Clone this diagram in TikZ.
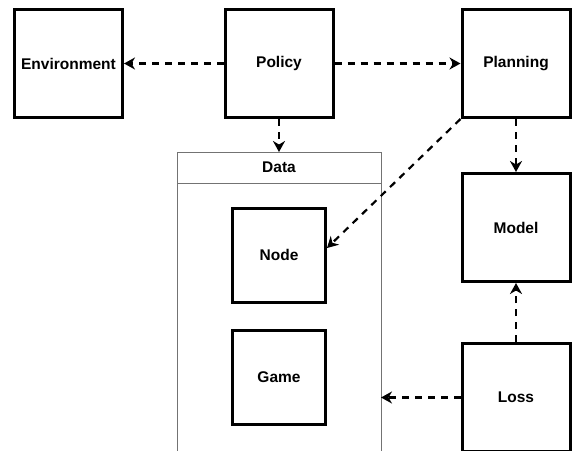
\documentclass[tikz,border=0pt]{standalone}
\usepackage{fontspec}
\setmainfont{Liberation Sans}
\usepackage{tikz}
\usetikzlibrary{arrows.meta}

\tikzset{
 blk/.style={draw,line width=3pt,minimum width=108pt,minimum height=108pt,inner sep=0pt,font=\bfseries\fontsize{15.5}{18}\selectfont},
 inblk/.style={blk,minimum width=93pt,minimum height=94pt},
 link/.style={line width=2.2pt,dash pattern=on 7pt off 6pt,-{Stealth[length=11pt,width=12pt,inset=3.5pt]}}
}

\begin{document}
\begin{tikzpicture}[x=1pt,y=-1pt]
 \useasboundingbox (0,0) rectangle (581,450);
 \clip (0,0) rectangle (581,450);
 % top row
 \node[blk] (env) at (68.5,63.5) {Environment};
 \node[blk] (policy) at (279,63.5) {Policy};
 \node[blk] (plan) at (516,63.5) {Planning};
 % right column
 \node[blk] (model) at (516,227.5) {Model};
 \node[blk] (loss) at (516,397.5) {Loss};
 % data container
 \node[draw=black!55,line width=1pt,outer sep=0pt,inner sep=0pt,minimum width=204pt,minimum height=330pt,anchor=north] (data) at (279,152) {};
 \draw[black!55,line width=1pt] ([yshift=-31pt]data.north west) -- ([yshift=-31pt]data.north east);
 \node[font=\bfseries\fontsize{15.5}{18}\selectfont] (datatitle) at (279,167.5) {Data};
 \node[inblk] (nd) at (279,255) {Node};
 \node[inblk] (game) at (279,377) {Game};
 % connectors
 \draw[link] (policy.west) -- (env.east);
 \draw[link] (policy.east) -- (plan.west);
 \draw[link] (policy.south) -- (data.north);
 \draw[link] (plan.south) -- (model.north);
 \draw[link] (loss.north) -- (model.south);
 \draw[link] (plan.south west) -- ([yshift=7pt]nd.east);
 \draw[link] (loss.west) -- (loss.west -| data.east);
\end{tikzpicture}
\end{document}
